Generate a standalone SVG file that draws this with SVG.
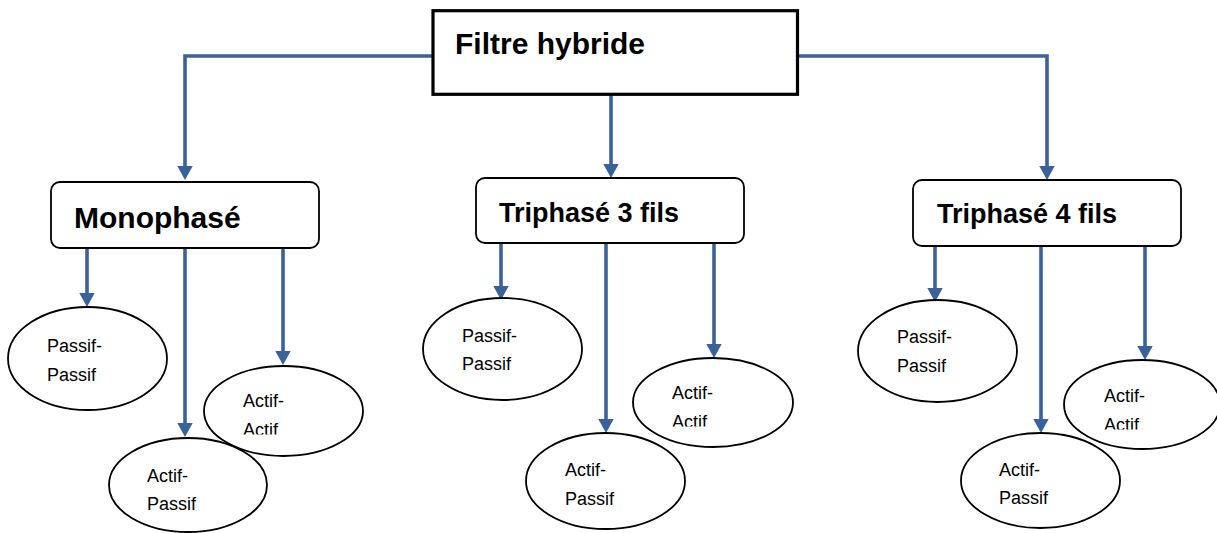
<svg xmlns="http://www.w3.org/2000/svg" width="1217" height="533" viewBox="0 0 1217 533">
  <style>
    .title { font-family: "Liberation Sans", Arial, sans-serif; font-weight: bold; fill: #000; }
    .label { font-family: "Liberation Sans", Arial, sans-serif; font-size: 18px; fill: #000; }
    .rbox { fill: #fff; stroke: #000; stroke-width: 1.8; }
    .oval { fill: #fff; stroke: #000; stroke-width: 1.8; }
    .link { fill: none; stroke: #3A6199; stroke-width: 3.6; marker-end: url(#head); }
  </style>
  <defs>
    <marker id="head" markerUnits="userSpaceOnUse" markerWidth="16" markerHeight="16" viewBox="0 0 14 16" refX="4" refY="7.7" orient="auto">
      <path d="M0,0 L14,7.7 L0,15.4 Z" fill="#3A6199"/>
    </marker>
    <!-- the second text line of each "Actif-Actif" oval is cut off at the bottom of its text frame -->
    <clipPath id="clipMonoAA" clipPathUnits="userSpaceOnUse"><rect x="200" y="360" width="170" height="74.5"/></clipPath>
    <clipPath id="clipTri3AA" clipPathUnits="userSpaceOnUse"><rect x="630" y="350" width="170" height="76.5"/></clipPath>
    <clipPath id="clipTri4AA" clipPathUnits="userSpaceOnUse"><rect x="1060" y="350" width="160" height="79.5"/></clipPath>
  </defs>

  <rect width="1217" height="533" fill="#fff"/>

  <!-- connectors -->
  <g id="connectors">
    <polyline class="link" points="433,56 185,56 185,170"/>
    <polyline class="link" points="611,95 611,168"/>
    <polyline class="link" points="798,56 1047,56 1047,170"/>

    <line class="link" x1="87" y1="248" x2="87" y2="297"/>
    <line class="link" x1="185" y1="248" x2="185" y2="427"/>
    <line class="link" x1="283" y1="248" x2="283" y2="355"/>

    <line class="link" x1="501" y1="243" x2="501" y2="290"/>
    <line class="link" x1="606" y1="243" x2="606" y2="423"/>
    <line class="link" x1="714" y1="243" x2="714" y2="348"/>

    <line class="link" x1="935" y1="246" x2="935" y2="292"/>
    <line class="link" x1="1041" y1="246" x2="1041" y2="423"/>
    <line class="link" x1="1145" y1="246" x2="1145" y2="350"/>
  </g>

  <!-- root -->
  <g id="node-filtre-hybride">
    <rect x="433" y="10.7" width="364.5" height="83.6" fill="#fff" stroke="#000" stroke-width="3.2"/>
    <text class="title" x="455" y="54" font-size="30">Filtre hybride</text>
  </g>

  <!-- Monophasé branch -->
  <g id="node-monophase">
    <rect class="rbox" x="51" y="182" width="268" height="66" rx="9"/>
    <text class="title" x="74" y="228" font-size="30">Monophasé</text>
  </g>
  <g id="node-mono-passif-passif">
    <ellipse class="oval" cx="87.5" cy="358.5" rx="79.5" ry="51.5"/>
    <text class="label" x="47" y="352">Passif-</text>
    <text class="label" x="47" y="381">Passif</text>
  </g>
  <g id="node-mono-actif-actif">
    <ellipse class="oval" cx="283.5" cy="411" rx="79.5" ry="45"/>
    <text class="label" x="243" y="407">Actif-</text>
    <text class="label" x="243" y="436" clip-path="url(#clipMonoAA)">Actif</text>
  </g>
  <g id="node-mono-actif-passif">
    <ellipse class="oval" cx="188" cy="485" rx="79" ry="47"/>
    <text class="label" x="147" y="482">Actif-</text>
    <text class="label" x="147" y="510">Passif</text>
  </g>

  <!-- Triphasé 3 fils branch -->
  <g id="node-triphase-3">
    <rect class="rbox" x="476" y="178" width="268" height="65" rx="9"/>
    <text class="title" x="499" y="222" font-size="27">Triphasé 3 fils</text>
  </g>
  <g id="node-tri3-passif-passif">
    <ellipse class="oval" cx="502.5" cy="349" rx="79.5" ry="51"/>
    <text class="label" x="462" y="342">Passif-</text>
    <text class="label" x="462" y="370">Passif</text>
  </g>
  <g id="node-tri3-actif-actif">
    <ellipse class="oval" cx="713" cy="402.5" rx="80" ry="44.5"/>
    <text class="label" x="672" y="399">Actif-</text>
    <text class="label" x="672" y="428" clip-path="url(#clipTri3AA)">Actif</text>
  </g>
  <g id="node-tri3-actif-passif">
    <ellipse class="oval" cx="605.5" cy="481" rx="79.5" ry="48"/>
    <text class="label" x="565" y="476">Actif-</text>
    <text class="label" x="565" y="505">Passif</text>
  </g>

  <!-- Triphasé 4 fils branch -->
  <g id="node-triphase-4">
    <rect class="rbox" x="913" y="180" width="268" height="66" rx="9"/>
    <text class="title" x="937" y="223" font-size="27">Triphasé 4 fils</text>
  </g>
  <g id="node-tri4-passif-passif">
    <ellipse class="oval" cx="937.5" cy="351" rx="79.5" ry="51"/>
    <text class="label" x="897" y="343">Passif-</text>
    <text class="label" x="897" y="372">Passif</text>
  </g>
  <g id="node-tri4-actif-actif">
    <ellipse class="oval" cx="1142" cy="404.5" rx="78" ry="44.5"/>
    <text class="label" x="1104" y="402">Actif-</text>
    <text class="label" x="1104" y="431" clip-path="url(#clipTri4AA)">Actif</text>
  </g>
  <g id="node-tri4-actif-passif">
    <ellipse class="oval" cx="1040.5" cy="480.5" rx="79.5" ry="47.5"/>
    <text class="label" x="999" y="476">Actif-</text>
    <text class="label" x="999" y="504">Passif</text>
  </g>
</svg>
